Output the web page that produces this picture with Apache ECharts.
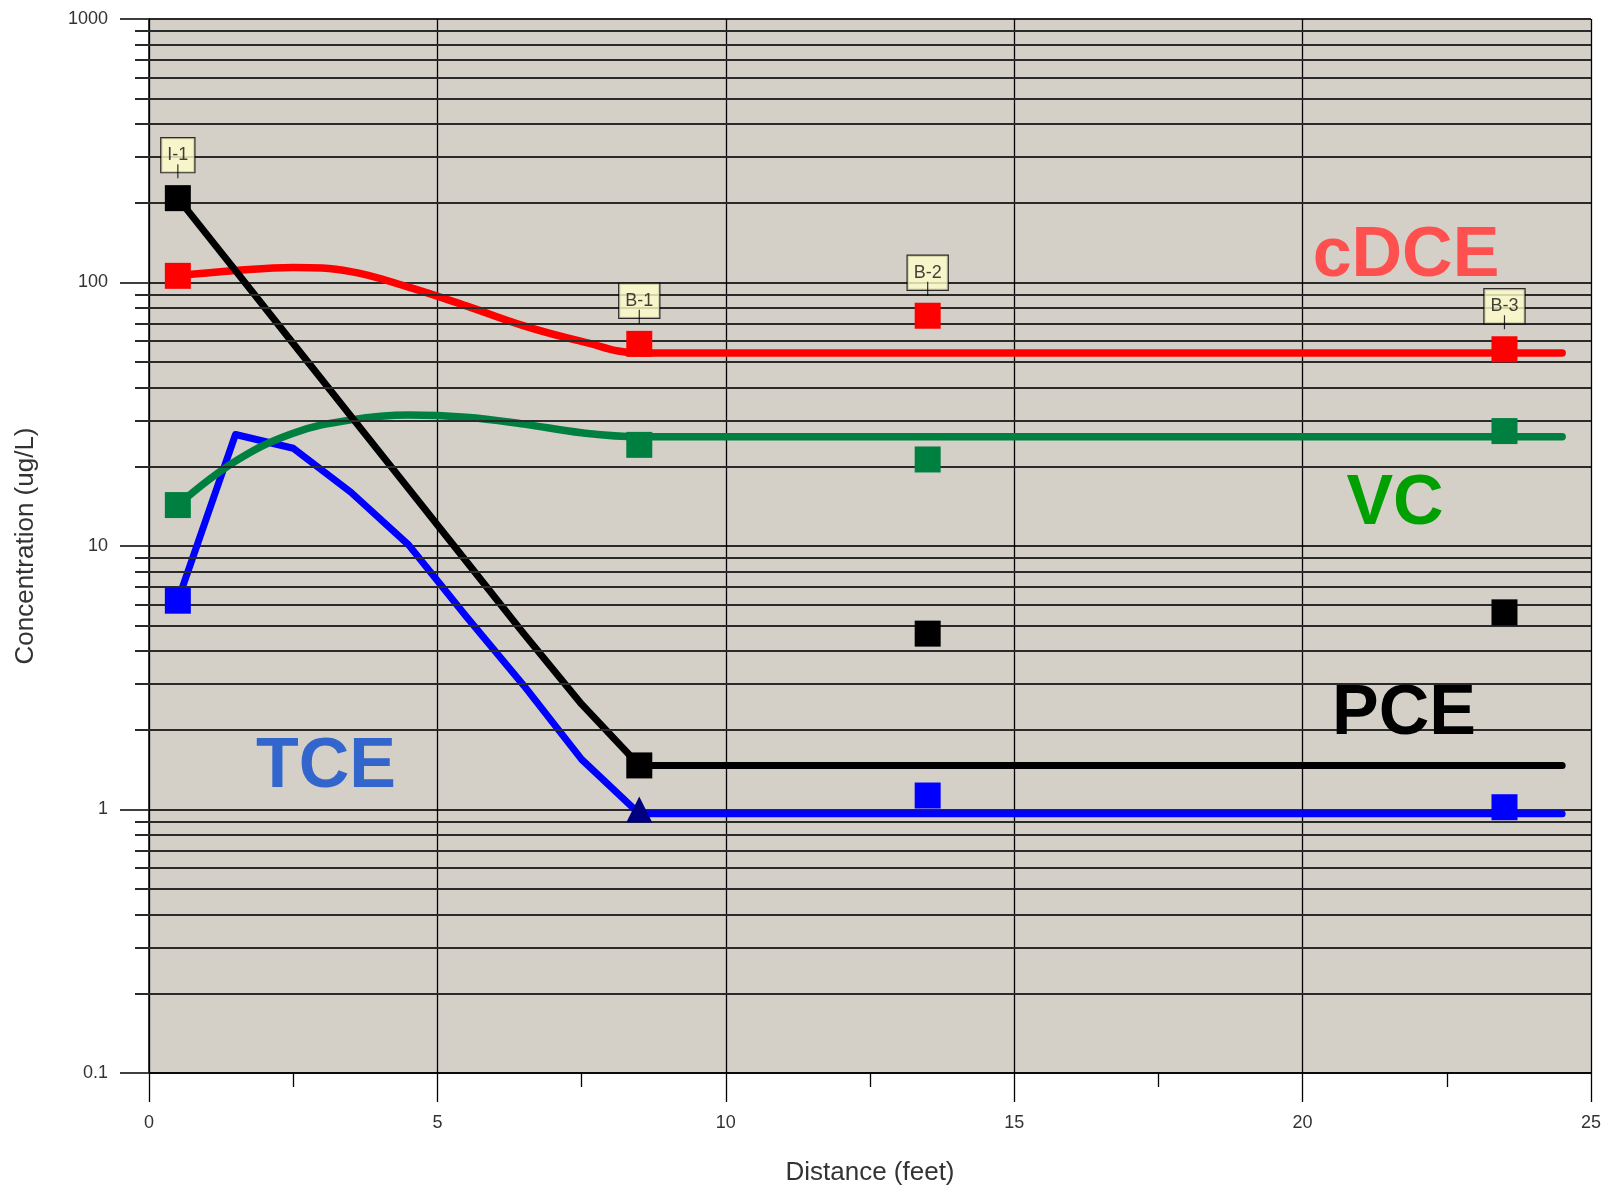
<!DOCTYPE html>
<html>
<head>
<meta charset="utf-8">
<script src="https://cdn.jsdelivr.net/npm/echarts@6/dist/echarts.min.js"></script>
<style>
html, body { margin: 0; padding: 0; background: #ffffff; }
#chart { width: 1602px; height: 1189px; }
</style>
</head>
<body>
<div id="chart"></div>
<script>
// ---------- data ----------
const locNames = ['I-1', 'B-1', 'B-2', 'B-3'];
const locX = [0.5, 8.5, 13.5, 23.5];

// observed concentrations (ug/L)
const pceObs  = [209, 1.47, 4.65, 5.6];
const cdceObs = [106, 58.5, 74.8, 55.8];
const vcObs   = [14.3, 24.2, 21.3, 27.3];
const tceObs  = [6.2, 1.0, 1.13, 1.02];
const tceSymbols = ['rect', 'triangle', 'rect', 'rect'];

// model curves
const modelX    = [0.5, 1.5, 2.5, 3.5, 4.5, 5.5, 6.5, 7.5, 8.5, 24.5];
const pceModel  = [209, 111, 58.7, 31.1, 16.5, 8.75, 4.64, 2.51, 1.47, 1.47];
const cdceModel = [106, 111, 114, 110, 96, 81.5, 68.5, 59.8, 54, 54];
const vcModel   = [14.3, 21, 26.8, 30.1, 31.4, 30.8, 29.0, 26.9, 26, 26];
const tceModel  = [6.2, 26.5, 23.5, 16.0, 10.1, 5.4, 2.95, 1.55, 0.964, 0.964];

// axis ticks
const xTickLabels = ['0', '5', '10', '15', '20', '25'];
const yTickLabels = ['0.1', '1', '10', '100', '1000'];
const yMinorGrid = [0.2, 0.3, 0.4, 0.5, 0.6, 0.7, 0.8, 0.9,
                    2, 3, 4, 5, 6, 7, 8, 9,
                    20, 30, 40, 50, 60, 70, 80, 90,
                    200, 300, 400, 500, 600, 700, 800, 900];

// ---------- chart ----------
const FONT = "'Liberation Sans', Arial, Helvetica, sans-serif";
const NARROW = "'Liberation Sans Narrow', 'Liberation Sans', Arial, sans-serif";
const pair = (xs, ys) => xs.map((x, i) => [x, ys[i]]);
const topVals = locX.map((x, i) => Math.max(pceObs[i], cdceObs[i], vcObs[i], tceObs[i]));

const chart = echarts.init(document.getElementById('chart'), null, { renderer: 'canvas' });

function modelLine(name, ys, color, width, smooth) {
  return {
    name: name, type: 'line', data: pair(modelX, ys),
    xAxisIndex: 0, yAxisIndex: 0,
    showSymbol: false, symbol: 'none', smooth: smooth || false,
    lineStyle: { color: color, width: width, cap: 'round', join: 'round' },
    z: 3, silent: true, animation: false
  };
}
function obsPoints(name, ys, color, symbols) {
  return {
    name: name, type: 'scatter',
    data: locX.map((x, i) => ({
      value: [x, ys[i]],
      symbol: symbols ? symbols[i] : 'rect',
      itemStyle: { color: (symbols && symbols[i] === 'triangle') ? '#000080' : color, opacity: 1 }
    })),
    xAxisIndex: 0, yAxisIndex: 0,
    symbolSize: 26,
    itemStyle: { opacity: 1 },
    z: 5, silent: true, animation: false
  };
}

const GRIDC = '#2a2a2a';

const option = {
  backgroundColor: '#ffffff',
  animation: false,
  grid: [
    { left: 149, right: 11, top: 19, bottom: 116, show: true, backgroundColor: '#d4d0c8', borderWidth: 0, outerBoundsMode: 'none' },
    { left: 135, right: 11, top: 19, bottom: 116, show: false, outerBoundsMode: 'none' }
  ],
  xAxis: [
    {
      gridIndex: 0, type: 'value', min: 0, max: 25, interval: 5,
      axisLine: { show: true, onZero: false, lineStyle: { color: '#000', width: 1.5 } },
      axisTick: { show: true, length: 29, lineStyle: { color: '#000', width: 1.3 } },
      minorTick: { show: true, splitNumber: 2, length: 14, lineStyle: { color: '#000', width: 1.3 } },
      splitLine: { show: true, lineStyle: { color: '#000', width: 1.3 } },
      minorSplitLine: { show: false },
      axisLabel: {
        margin: 41, fontSize: 18, color: '#333', fontFamily: NARROW,
        formatter: v => xTickLabels[Math.round(v / 5)]
      },
      name: 'Distance (feet)', nameLocation: 'middle', nameGap: 87,
      nameTextStyle: { fontSize: 26, color: '#333', fontFamily: FONT }
    },
    { gridIndex: 1, type: 'value', min: 0, max: 1, show: false }
  ],
  yAxis: [
    {
      gridIndex: 0, type: 'log', logBase: 10, min: 0.1, max: 1000,
      axisLine: { show: true, lineStyle: { color: '#000', width: 1.5 } },
      axisTick: { show: true, length: 29, lineStyle: { color: GRIDC, width: 1.8 } },
      minorTick: { show: false },
      splitLine: { show: true, lineStyle: { color: GRIDC, width: 1.8 } },
      axisLabel: {
        margin: 41, fontSize: 18, color: '#333', fontFamily: FONT,
        formatter: v => yTickLabels[Math.round(Math.log10(v)) + 1]
      },
      name: 'Concentration (ug/L)', nameLocation: 'middle', nameGap: 110,
      nameTextStyle: { fontSize: 26, color: '#333', fontFamily: FONT }
    },
    { gridIndex: 1, type: 'log', logBase: 10, min: 0.1, max: 1000, show: false }
  ],
  series: [
    {
      name: 'minorGrid', type: 'line', xAxisIndex: 1, yAxisIndex: 1, data: [],
      silent: true, z: 1, animation: false,
      markLine: {
        silent: true, symbol: ['none', 'none'], animation: false,
        label: { show: false },
        lineStyle: { color: GRIDC, width: 1.8, type: 'solid' },
        emphasis: { disabled: true },
        data: yMinorGrid.map(v => ({ yAxis: v }))
      }
    },
    modelLine('TCE model', tceModel, '#0000ff', 7, false),
    modelLine('VC model', vcModel, '#008040', 7.5, 0.4),
    modelLine('cDCE model', cdceModel, '#ff0000', 7.5, 0.4),
    modelLine('PCE model', pceModel, '#000000', 7, false),
    obsPoints('TCE', tceObs, '#0000ff', tceSymbols),
    obsPoints('VC', vcObs, '#008040'),
    obsPoints('cDCE', cdceObs, '#ff0000'),
    obsPoints('PCE', pceObs, '#000000'),
    {
      name: 'locations', type: 'scatter', xAxisIndex: 0, yAxisIndex: 0,
      data: pair(locX, topVals), symbol: 'rect', symbolSize: 26,
      itemStyle: { color: 'rgba(0,0,0,0)' },
      silent: true, z: 6, animation: false,
      label: {
        show: true, position: 'top', distance: 7,
        formatter: p => '{box|' + locNames[p.dataIndex] + '}\n{stem| }',
        rich: {
          box: {
            backgroundColor: '#ffffcc', borderColor: '#000', borderWidth: 1.2,
            padding: [8, 6], fontSize: 18, lineHeight: 18, color: '#111', fontFamily: FONT,
            align: 'center'
          },
          stem: { width: 1.2, height: 14, lineHeight: 14, fontSize: 1, backgroundColor: '#000', align: 'center' }
        }
      }
    }
  ],
  graphic: [
    { type: 'text', x: 1406, y: 257, silent: true, z: 10,
      style: { text: 'cDCE', fill: '#ff5050', font: 'bold 70px ' + FONT, align: 'center', verticalAlign: 'middle', textAlign: 'center', textVerticalAlign: 'middle' } },
    { type: 'text', x: 1395, y: 505, silent: true, z: 10,
      style: { text: 'VC', fill: '#00a000', font: 'bold 70px ' + FONT, align: 'center', verticalAlign: 'middle', textAlign: 'center', textVerticalAlign: 'middle' } },
    { type: 'text', x: 1404, y: 715, silent: true, z: 10,
      style: { text: 'PCE', fill: '#000000', font: 'bold 70px ' + FONT, align: 'center', verticalAlign: 'middle', textAlign: 'center', textVerticalAlign: 'middle' } },
    { type: 'text', x: 326, y: 768, silent: true, z: 10,
      style: { text: 'TCE', fill: '#3366cc', font: 'bold 70px ' + FONT, align: 'center', verticalAlign: 'middle', textAlign: 'center', textVerticalAlign: 'middle' } }
  ]
};

chart.setOption(option);
</script>
</body>
</html>
